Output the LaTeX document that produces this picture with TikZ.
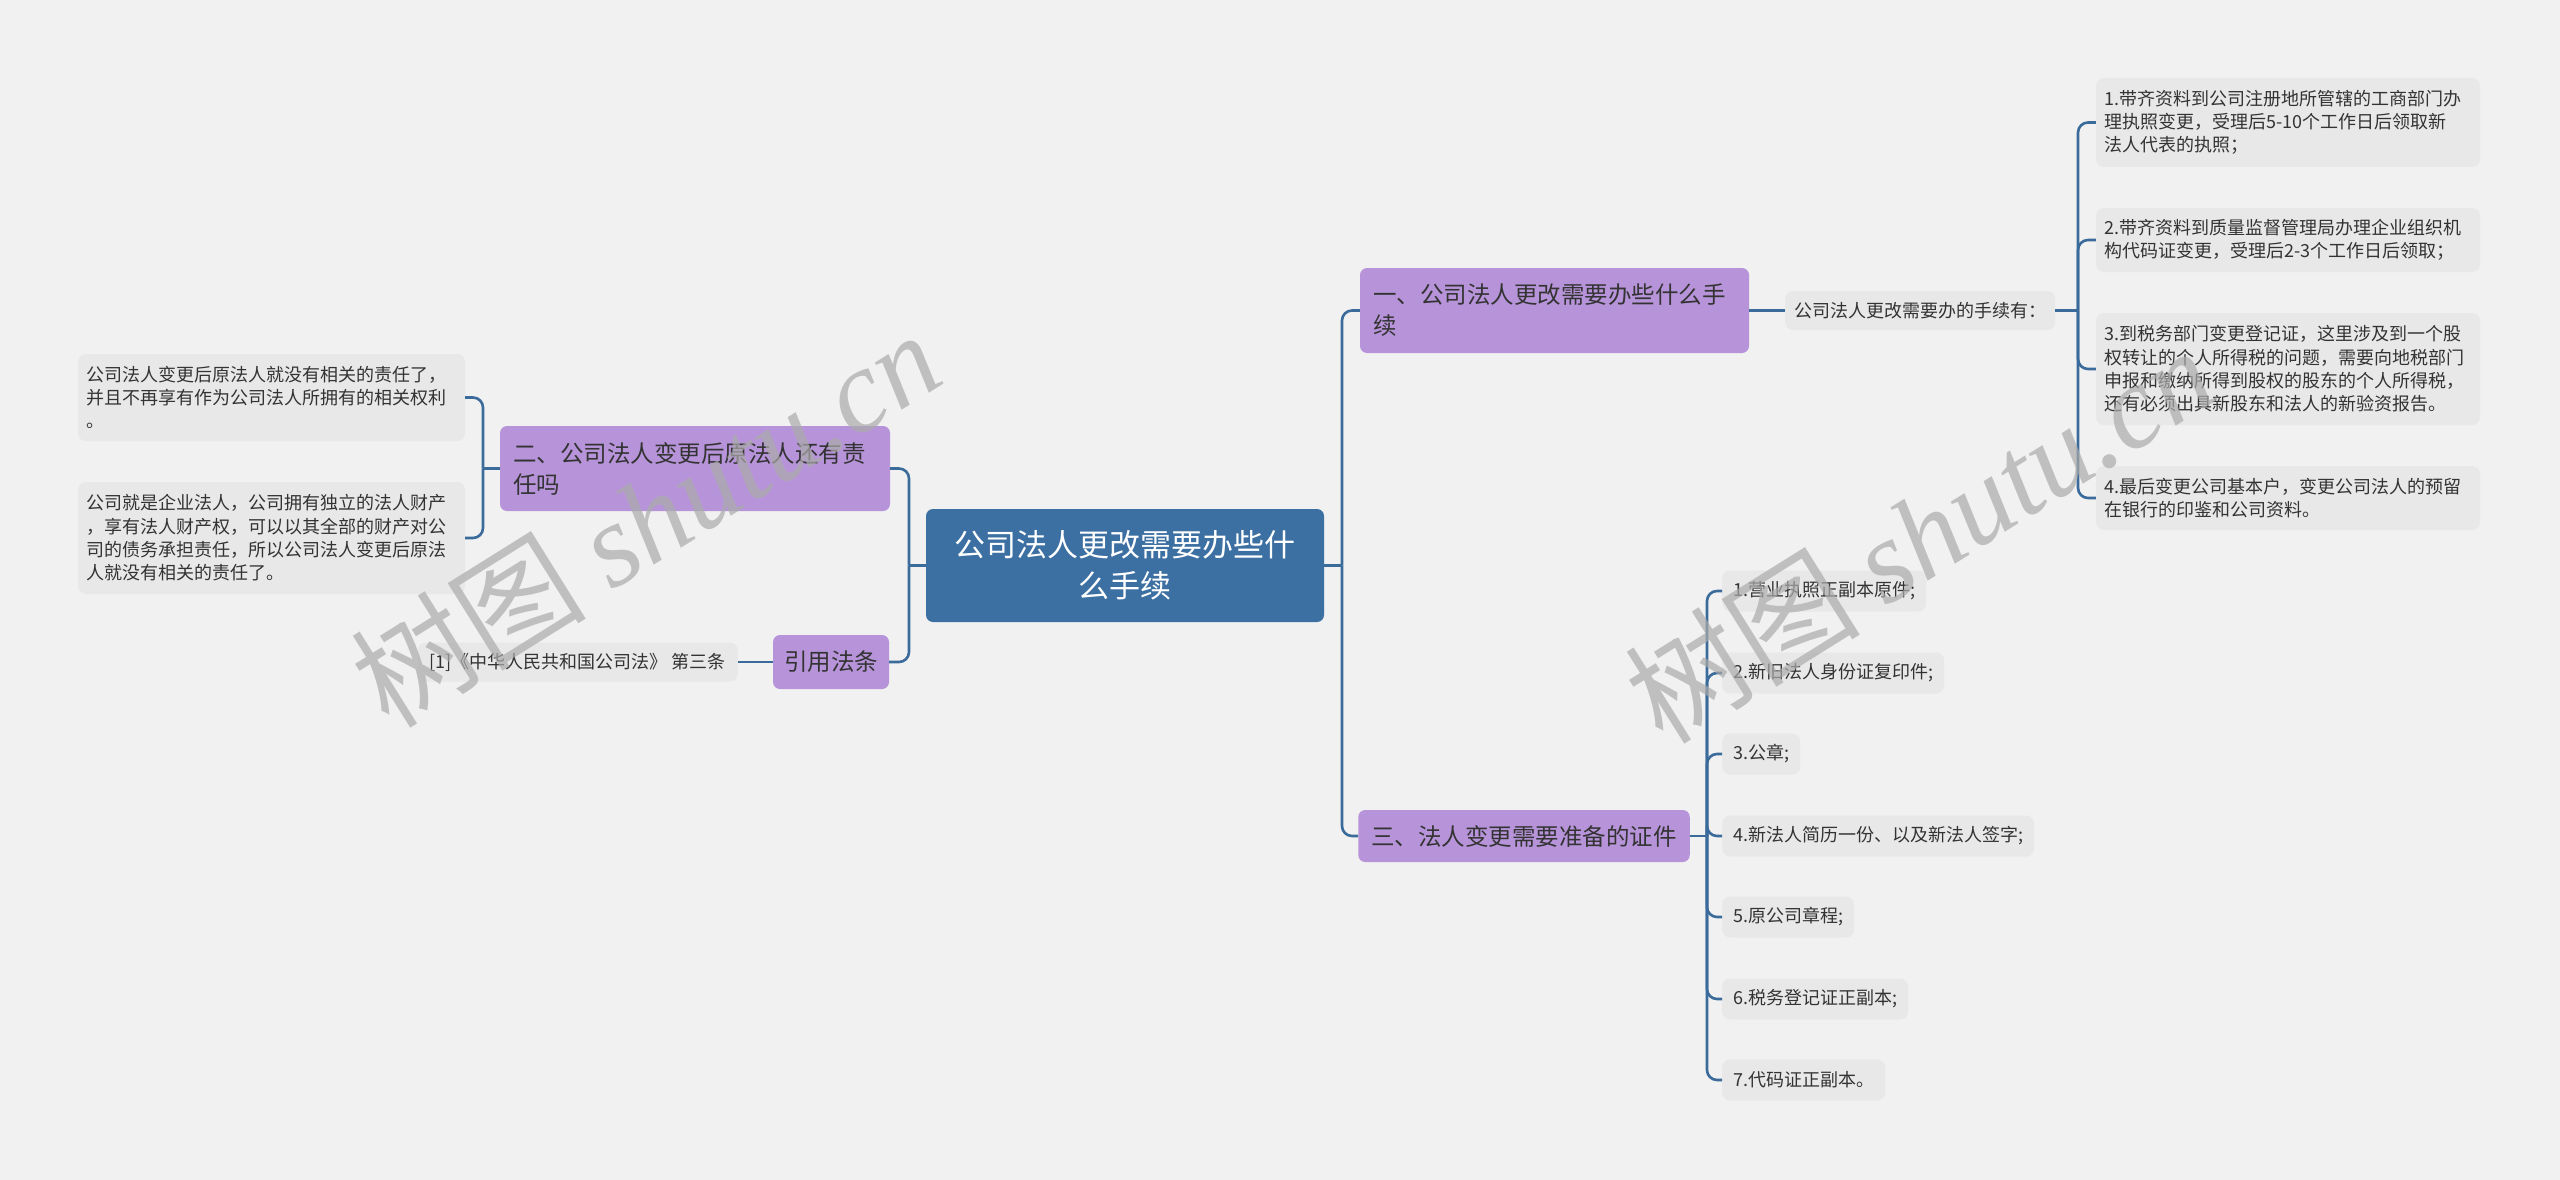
\documentclass[tikz,border=0pt]{standalone}
\usepackage{fontspec}
\setmainfont{Noto Sans CJK SC}
\newfontfamily\wmserif{Liberation Serif}
\usetikzlibrary{calc}
\definecolor{bgc}{HTML}{F1F1F1}
\definecolor{rootc}{HTML}{3D70A2}
\definecolor{purp}{HTML}{B794D9}
\definecolor{leafc}{HTML}{E8E8E8}
\definecolor{linec}{HTML}{3B6B9A}
\definecolor{txt}{HTML}{333333}
\definecolor{wmc}{HTML}{ABABAB}
\tikzset{
 rootbox/.style={fill=rootc, rounded corners=7pt, text=white, font=\fontsize{31}{41}\selectfont, align=center, inner sep=0pt},
 topicbox/.style={fill=purp, rounded corners=7pt, text=txt, font=\fontsize{23.5}{31}\selectfont, align=left, inner xsep=13pt, inner ysep=0pt},
 leafbox/.style={fill=leafc, rounded corners=8pt, text=txt, font=\fontsize{18}{23.3}\selectfont, align=left, inner xsep=8pt, inner ysep=0pt},
 conn/.style={draw=linec, line width=2.6pt, rounded corners=10pt},
 wm/.style={text=wmc, opacity=0.7, rotate=32, font=\fontsize{118}{118}\selectfont}
}
\begin{document}
\begin{tikzpicture}[x=1pt,y=-1pt]
\fill[bgc] (0,0) rectangle (2560,1180);
\useasboundingbox (0,0) rectangle (2560,1180);

% root
\node[rootbox, minimum width=398pt, minimum height=113pt] (root) at (1125,565.5) {公司法人更改需要办些什\\么手续};

% topic 1
\node[topicbox, text width=363pt, minimum height=85pt] (t1) at (1554.5,310.5) {一、公司法人更改需要办些什么手\\续};
\node[leafbox, anchor=west, inner xsep=9pt, minimum height=39pt] (t1a) at (1785,310.5) {公司法人更改需要办的手续有：};
\node[leafbox, text width=368pt, minimum height=89pt] (r1) at (2288,122.5) {1.带齐资料到公司注册地所管辖的工商部门办\\理执照变更，受理后5-10个工作日后领取新\\法人代表的执照；};
\node[leafbox, text width=368pt, minimum height=64pt] (r2) at (2288,240) {2.带齐资料到质量监督管理局办理企业组织机\\构代码证变更，受理后2-3个工作日后领取；};
\node[leafbox, text width=368pt, minimum height=112pt] (r3) at (2288,369) {3.到税务部门变更登记证，这里涉及到一个股\\权转让的个人所得税的问题，需要向地税部门\\申报和缴纳所得到股权的股东的个人所得税，\\还有必须出具新股东和法人的新验资报告。};
\node[leafbox, text width=368pt, minimum height=64pt] (r4) at (2288,498) {4.最后变更公司基本户，变更公司法人的预留\\在银行的印鉴和公司资料。};

% topic 2
\node[topicbox, text width=364pt, minimum height=85pt] (t2) at (695,468.5) {二、公司法人变更后原法人还有责\\任吗};
\node[leafbox, text width=371pt, minimum height=87pt] (l1) at (271.5,397.5) {公司法人变更后原法人就没有相关的责任了，\\并且不再享有作为公司法人所拥有的相关权利\\。};
\node[leafbox, text width=371pt, minimum height=112pt] (l2) at (271.5,538) {公司就是企业法人，公司拥有独立的法人财产\\，享有法人财产权，可以以其全部的财产对公\\司的债务承担责任，所以公司法人变更后原法\\人就没有相关的责任了。};

% topic 3 (citation)
\node[topicbox, inner xsep=11pt, minimum height=54pt] (t3) at (831,662) {引用法条};
\node[leafbox, anchor=east, inner xsep=12pt, minimum height=39pt] (c1) at (738,662) {[1]《中华人民共和国公司法》 第三条};

% topic 4
\node[topicbox, minimum height=52pt] (t4) at (1524,836) {三、法人变更需要准备的证件};
\node[leafbox, anchor=west, inner xsep=11pt, minimum height=41pt] (s1) at (1722,591) {1.营业执照正副本原件;};
\node[leafbox, anchor=west, inner xsep=11pt, minimum height=41pt] (s2) at (1722,673) {2.新旧法人身份证复印件;};
\node[leafbox, anchor=west, inner xsep=11pt, minimum height=41pt] (s3) at (1722,754) {3.公章;};
\node[leafbox, anchor=west, inner xsep=11pt, minimum height=41pt] (s4) at (1722,836) {4.新法人简历一份、以及新法人签字;};
\node[leafbox, anchor=west, inner xsep=11pt, minimum height=41pt] (s5) at (1722,917) {5.原公司章程;};
\node[leafbox, anchor=west, inner xsep=11pt, minimum height=41pt] (s6) at (1722,999) {6.税务登记证正副本;};
\node[leafbox, anchor=west, inner xsep=11pt, minimum height=41pt] (s7) at (1722,1080) {7.代码证正副本。};

% connectors
\coordinate (jR) at (1342,565.5);
\coordinate (jL) at (909,565.5);
\coordinate (j1) at (2078,310.5);
\coordinate (j2) at (483,468.5);
\coordinate (j4) at (1707,836);

\draw[conn] (root.east) -- (jR);
\draw[conn] (jR) |- (t1.west);
\draw[conn] (jR) |- (t4.west);
\draw[conn] (root.west) -- (jL);
\draw[conn] (jL) |- (t2.east);
\draw[conn] (jL) |- (t3.east);

\draw[conn] (t1.east) -- (t1a.west);
\draw[conn] (t1a.east) -- (j1);
\foreach \n in {r1,r2,r3,r4} { \draw[conn] (j1) |- (\n.west); }

\draw[conn] (t2.west) -- (j2);
\draw[conn] (j2) |- (l1.east);
\draw[conn] (j2) |- (l2.east);

\draw[conn] (t3.west) -- (c1.east);

\draw[conn] (t4.east) -- (j4);
\foreach \n in {s1,s2,s3,s4,s5,s6,s7} { \draw[conn] (j4) |- (\n.west); }

% watermarks
\node[wm] (wm1) at (645,518) {树图 {\wmserif\itshape shutu.cn}};
\node[wm] (wm2) at (1919,534) {树图 {\wmserif\itshape shutu.cn}};
\end{tikzpicture}
\end{document}
